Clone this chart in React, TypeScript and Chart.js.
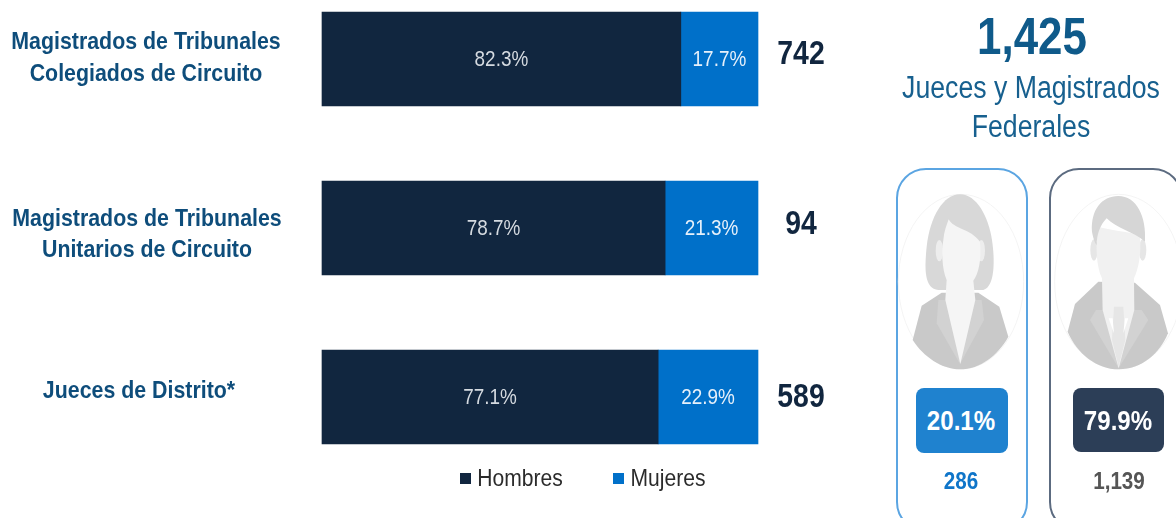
import React, { useEffect, useRef } from "react";
import { Chart, registerables } from "chart.js";

Chart.register(...registerables);

const categories = ["Magistrados de Tribunales Colegiados de Circuito", "Magistrados de Tribunales Unitarios de Circuito", "Jueces de Distrito*"];
const hombres = [82.3, 78.7, 77.1];
const mujeres = [17.7, 21.3, 22.9];
const totals = ["742", "94", "589"];
const seriesNames = ["Hombres", "Mujeres"];
const NAVY = "#11263F";
const BLUE = "#0070C9";
const FONT = '"Liberation Sans", Arial, sans-serif';
const SQUEEZE = 0.86;

const barText = {
  id: "barText",
  afterDatasetsDraw(chart: any) {
    const { ctx } = chart;
    const put = (t: string, x: number, y: number, font: string, color: string) => {
      ctx.save();
      ctx.translate(x, y);
      ctx.scale(SQUEEZE, 1);
      ctx.font = font;
      ctx.fillStyle = color;
      ctx.textAlign = "center";
      ctx.textBaseline = "middle";
      ctx.fillText(t, 0, 0);
      ctx.restore();
    };
    chart.data.datasets.forEach((ds: any, di: number) => {
      chart.getDatasetMeta(di).data.forEach((bar: any, i: number) => {
        const p = bar.getProps(["x", "y", "base"], true);
        put(`${ds.data[i].toFixed(1)}%`, (p.x + p.base) / 2, p.y + 1, `22px ${FONT}`, di === 0 ? "#D5DAE0" : "#E6F0FA");
      });
    });
    const right = chart.scales.x.right;
    chart.getDatasetMeta(1).data.forEach((bar: any, i: number) => {
      put(totals[i], right + 43, bar.y + [-4, -3, 1][i], `bold 33px ${FONT}`, NAVY);
    });
  },
};

function T({ x, y, size, color, bold, sx = SQUEEZE, children }: any) {
  return (
    <div
      style={{
        position: "absolute",
        left: x,
        top: y,
        fontFamily: FONT,
        fontSize: size,
        fontWeight: bold ? 700 : 400,
        color,
        whiteSpace: "nowrap",
        lineHeight: 1,
        transform: `translate(-50%,-50%) scaleX(${sx})`,
      }}
    >
      {children}
    </div>
  );
}

function Silhouettes() {
  return (
    <svg width={1176} height={518} style={{ position: "absolute", left: 0, top: 0, filter: "blur(0.7px)" }}>
      <g transform="translate(880,160) scale(0.3333)">
        {/* woman */}
        <ellipse cx={243} cy={365} rx={188} ry={262} fill="none" stroke="#F4F4F4" strokeWidth={3} />
        <path d="M240 103 C190 103 150 170 140 260 C133 330 133 385 175 390 L310 390 C345 380 345 300 336 240 C325 170 290 103 240 103Z" fill="#D8D8D8" />
        <path d="M185 398 L125 437 L98 540 C130 590 185 628 240 628 C300 628 355 585 385 530 L358 440 L295 398Z" fill="#C9C9C9" />
        <path d="M175 420 L170 490 L240 612 L312 480 L305 420Z" fill="#D2D2D2" />
        <ellipse cx={178} cy={272} rx={11} ry={32} fill="#EDEDED" />
        <ellipse cx={304} cy={272} rx={11} ry={32} fill="#EDEDED" />
        <path d="M206 178 C222 208 270 205 300 245 C305 300 296 340 280 362 L286 420 L241 612 L196 420 L200 360 C186 330 184 270 190 240 C192 215 200 195 206 178Z" fill="#F5F5F5" />
        {/* man */}
        <ellipse cx={716} cy={365} rx={192} ry={262} fill="none" stroke="#F4F4F4" strokeWidth={3} />
        <path d="M655 365 L585 432 L563 515 C590 580 650 628 716 628 C785 628 840 580 864 520 L840 435 L765 368Z" fill="#C9C9C9" />
        <path d="M648 450 L630 480 L716 625 L805 480 L785 450Z" fill="#D2D2D2" />
        <ellipse cx={642} cy={270} rx={11} ry={32} fill="#E6E6E6" />
        <ellipse cx={788} cy={270} rx={11} ry={32} fill="#E6E6E6" />
        <path d="M655 200 C690 210 740 215 780 225 C785 280 775 330 762 355 L763 450 L716 625 L668 450 L666 355 C650 320 645 260 655 200Z" fill="#F1F1F1" />
        <path d="M715 108 C665 108 632 150 636 215 C640 235 645 250 650 255 C650 225 660 195 680 175 C710 205 760 215 795 245 C800 170 770 108 715 108Z" fill="#D6D6D6" />
        <path d="M702 440 L730 440 L736 540 L716 620 L696 540Z" fill="#E6E6E6" />
        <path d="M686 475 L702 520 L698 475Z M745 475 L730 520 L735 475Z" fill="#FFFFFF" />
      </g>
    </svg>
  );
}

export default function App() {
  const ref = useRef<HTMLCanvasElement | null>(null);
  useEffect(() => {
    const chart = new Chart(ref.current as HTMLCanvasElement, {
      type: "bar",
      data: {
        labels: categories,
        datasets: [
          { label: seriesNames[0], data: hombres, backgroundColor: NAVY, barThickness: 94, clip: false },
          { label: seriesNames[1], data: mujeres, backgroundColor: BLUE, barThickness: 94, clip: false },
        ],
      } as any,
      options: {
        indexAxis: "y",
        animation: false,
        responsive: false,
        layout: { padding: { left: 322, right: 418, top: 59, bottom: 121 } },
        scales: {
          x: { stacked: true, min: 0, max: 100, display: false },
          y: { stacked: true, display: false, offset: false },
        },
        plugins: { legend: { display: false }, tooltip: { enabled: false } },
      } as any,
      plugins: [barText],
    });
    return () => chart.destroy();
  }, []);

  const LABEL = "#0E4D7B";
  const HEAD = "#17608F";
  return (
    <div style={{ position: "fixed", left: 0, top: 0, width: 1176, height: 518, overflow: "hidden", background: "#fff", filter: "blur(0.45px)" }}>
      <canvas ref={ref} width={1176} height={518} style={{ position: "absolute", left: 0, top: 0, display: "block" }} />

      <T x={146} y={41} size={24} color={LABEL} bold sx={0.89}>Magistrados de Tribunales</T>
      <T x={146} y={73} size={24} color={LABEL} bold sx={0.89}>Colegiados de Circuito</T>
      <T x={147} y={218} size={24} color={LABEL} bold sx={0.89}>Magistrados de Tribunales</T>
      <T x={147} y={249} size={24} color={LABEL} bold sx={0.89}>Unitarios de Circuito</T>
      <T x={139} y={390} size={24} color={LABEL} bold sx={0.89}>Jueces de Distrito*</T>

      <div style={{ position: "absolute", left: 460, top: 473, width: 11, height: 11, background: NAVY }} />
      <T x={520} y={478} size={24.5} color="#2B2B2B">{seriesNames[0]}</T>
      <div style={{ position: "absolute", left: 613, top: 473, width: 11, height: 11, background: BLUE }} />
      <T x={668} y={478} size={24.5} color="#2B2B2B">{seriesNames[1]}</T>

      <T x={1032} y={36} size={51} color="#0F5A8A" bold>1,425</T>
      <T x={1031} y={87} size={31} color={HEAD}>Jueces y Magistrados</T>
      <T x={1031} y={126} size={31} color={HEAD}>Federales</T>

      <div style={{ position: "absolute", left: 896, top: 168, width: 128, height: 360, border: "2px solid #5BA5E2", borderRadius: 30, boxSizing: "content-box" }} />
      <div style={{ position: "absolute", left: 1049, top: 168, width: 130, height: 360, border: "2px solid #5C6B80", borderRadius: 30, boxSizing: "content-box" }} />
      <Silhouettes />

      <div style={{ position: "absolute", left: 916, top: 388, width: 92, height: 65, background: "#1F82CF", borderRadius: 8 }} />
      <T x={961} y={421} size={28} color="#fff" bold>20.1%</T>
      <div style={{ position: "absolute", left: 1073, top: 388, width: 91, height: 64, background: "#2C3E57", borderRadius: 8 }} />
      <T x={1118} y={421} size={28} color="#fff" bold>79.9%</T>
      <T x={961} y={481} size={24} color="#0F75C9" bold>286</T>
      <T x={1119} y={481} size={24} color="#555555" bold>1,139</T>
    </div>
  );
}
